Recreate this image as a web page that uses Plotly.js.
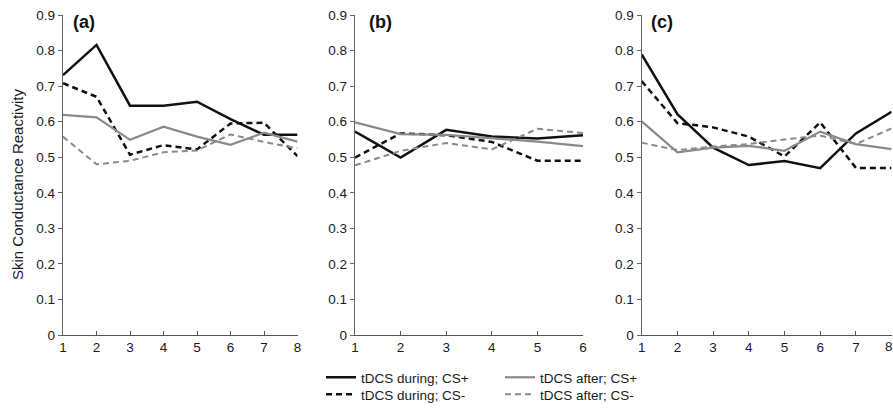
<!DOCTYPE html>
<html>
<head>
<meta charset="utf-8">
<script src="https://cdn.plot.ly/plotly-3.0.1.min.js"></script>
<style>html,body{margin:0;padding:0;background:#fff;}#chart{width:893px;height:416px;}</style>
</head>
<body>
<div id="chart"></div>
<script>
// Sessions (x categories)
const sessionsA = [1, 2, 3, 4, 5, 6, 7, 8];
const sessionsB = [1, 2, 3, 4, 5, 6];
const sessionsC = [1, 2, 3, 4, 5, 6, 7, 8];

// Panel (a)
const duringCSplusA  = [0.731, 0.816, 0.645, 0.645, 0.656, 0.607, 0.563, 0.563];
const duringCSminusA = [0.708, 0.670, 0.507, 0.534, 0.522, 0.595, 0.597, 0.503];
const afterCSplusA   = [0.619, 0.612, 0.549, 0.586, 0.558, 0.535, 0.569, 0.544];
const afterCSminusA  = [0.558, 0.480, 0.490, 0.514, 0.519, 0.564, 0.543, 0.525];

// Panel (b)
const duringCSplusB  = [0.572, 0.499, 0.577, 0.558, 0.553, 0.562];
const duringCSminusB = [0.499, 0.567, 0.562, 0.543, 0.490, 0.490];
const afterCSplusB   = [0.598, 0.565, 0.563, 0.553, 0.544, 0.531];
const afterCSminusB  = [0.477, 0.518, 0.540, 0.522, 0.580, 0.568];

// Panel (c)
const duringCSplusC  = [0.789, 0.621, 0.527, 0.478, 0.489, 0.469, 0.567, 0.628];
const duringCSminusC = [0.714, 0.596, 0.584, 0.558, 0.502, 0.598, 0.470, 0.470];
const afterCSplusC   = [0.601, 0.514, 0.527, 0.532, 0.518, 0.572, 0.537, 0.523];
const afterCSminusC  = [0.541, 0.520, 0.530, 0.537, 0.550, 0.561, 0.537, 0.581];

const seriesNames = ["tDCS during; CS+", "tDCS during; CS-", "tDCS after; CS+", "tDCS after; CS-"];
const panelLabels = ["(a)", "(b)", "(c)"];
const yTitle = "Skin Conductance Reactivity";

const styles = [
  {color: "#111111", width: 2.5, dash: "solid", legend: "legend"},
  {color: "#111111", width: 2.5, dash: "6px,4px", legend: "legend3"},
  {color: "#8a8a8a", width: 2.2, dash: "solid", legend: "legend2"},
  {color: "#8a8a8a", width: 2.0, dash: "6px,4px", legend: "legend4"}
];

const panels = [
  {x: sessionsA, ys: [duringCSplusA, duringCSminusA, afterCSplusA, afterCSminusA], xa: "x", ya: "y"},
  {x: sessionsB, ys: [duringCSplusB, duringCSminusB, afterCSplusB, afterCSminusB], xa: "x2", ya: "y2"},
  {x: sessionsC, ys: [duringCSplusC, duringCSminusC, afterCSplusC, afterCSminusC], xa: "x3", ya: "y3"}
];

const traces = [];
panels.forEach((p, pi) => {
  p.ys.forEach((y, si) => {
    const s = styles[si];
    traces.push({
      type: "scatter", mode: "lines",
      x: p.x, y: y, xaxis: p.xa, yaxis: p.ya,
      name: seriesNames[si],
      legend: s.legend,
      showlegend: pi === 0,
      line: {color: s.color, width: s.width, dash: s.dash},
      cliponaxis: false
    });
  });
});

const W = 893, H = 416;
const yDom = [(H - 335) / H, (H - 15) / H];
const fam = "Liberation Sans, Arial, sans-serif";
const font = {family: fam, size: 13.5, color: "#1a1a1a"};

function xAxis(dom, maxV, anchor) {
  return {
    domain: dom, anchor: anchor, range: [1, maxV], tickmode: "linear", tick0: 1, dtick: 1,
    showline: true, linecolor: "#555", linewidth: 1.2, ticks: "inside", ticklen: 4, tickcolor: "#555",
    showgrid: false, zeroline: false, tickfont: font, fixedrange: true
  };
}
function yAxis(anchor) {
  return {
    domain: yDom, anchor: anchor, range: [0, 0.9], tickmode: "linear", tick0: 0, dtick: 0.1,
    showline: true, linecolor: "#666", linewidth: 1.2, ticks: "outside", ticklen: 4, tickcolor: "#666",
    showgrid: false, zeroline: false, tickfont: font, fixedrange: true
  };
}
function legendAt(px, pyTop) {
  return {x: px / W, y: (H - pyTop) / H, xanchor: "left", yanchor: "top", orientation: "v",
          font: {family: fam, size: 13.5, color: "#1a1a1a"}, bgcolor: "rgba(0,0,0,0)", itemwidth: 30};
}

const labelFont = {family: fam, size: 18, color: "#111"};

const layout = {
  width: W, height: H,
  margin: {l: 0, r: 0, t: 0, b: 0},
  paper_bgcolor: "#fff", plot_bgcolor: "#fff",
  font: font,
  xaxis: xAxis([63 / W, 297.5 / W], 8, "y"),
  yaxis: yAxis("x"),
  xaxis2: xAxis([355 / W, 583 / W], 6, "y2"),
  yaxis2: yAxis("x2"),
  xaxis3: xAxis([641.7 / W, 891.6 / W], 8, "y3"),
  yaxis3: yAxis("x3"),
  legend: legendAt(321, 362),
  legend3: legendAt(321, 379),
  legend2: legendAt(500, 362),
  legend4: legendAt(500, 379),
  annotations: [
    {text: yTitle, xref: "paper", yref: "paper", x: 17 / W, y: (H - 185) / H, xanchor: "center", yanchor: "middle", textangle: -90, showarrow: false, font: {family: fam, size: 15, color: "#1a1a1a"}},
    {text: "<b>" + panelLabels[0] + "</b>", xref: "paper", yref: "paper", x: 71 / W, y: (H - 22) / H, xanchor: "left", yanchor: "middle", showarrow: false, font: labelFont},
    {text: "<b>" + panelLabels[1] + "</b>", xref: "paper", yref: "paper", x: 367 / W, y: (H - 22) / H, xanchor: "left", yanchor: "middle", showarrow: false, font: labelFont},
    {text: "<b>" + panelLabels[2] + "</b>", xref: "paper", yref: "paper", x: 649 / W, y: (H - 22) / H, xanchor: "left", yanchor: "middle", showarrow: false, font: labelFont},
    {text: String(sessionsC[sessionsC.length - 1]), xref: "x3", yref: "paper", x: sessionsC[sessionsC.length - 1], xshift: -3, y: (H - 337) / H, xanchor: "center", yanchor: "top", showarrow: false, font: font}
  ]
};

Plotly.newPlot("chart", traces, layout, {staticPlot: true, displayModeBar: false});
</script>
</body>
</html>
